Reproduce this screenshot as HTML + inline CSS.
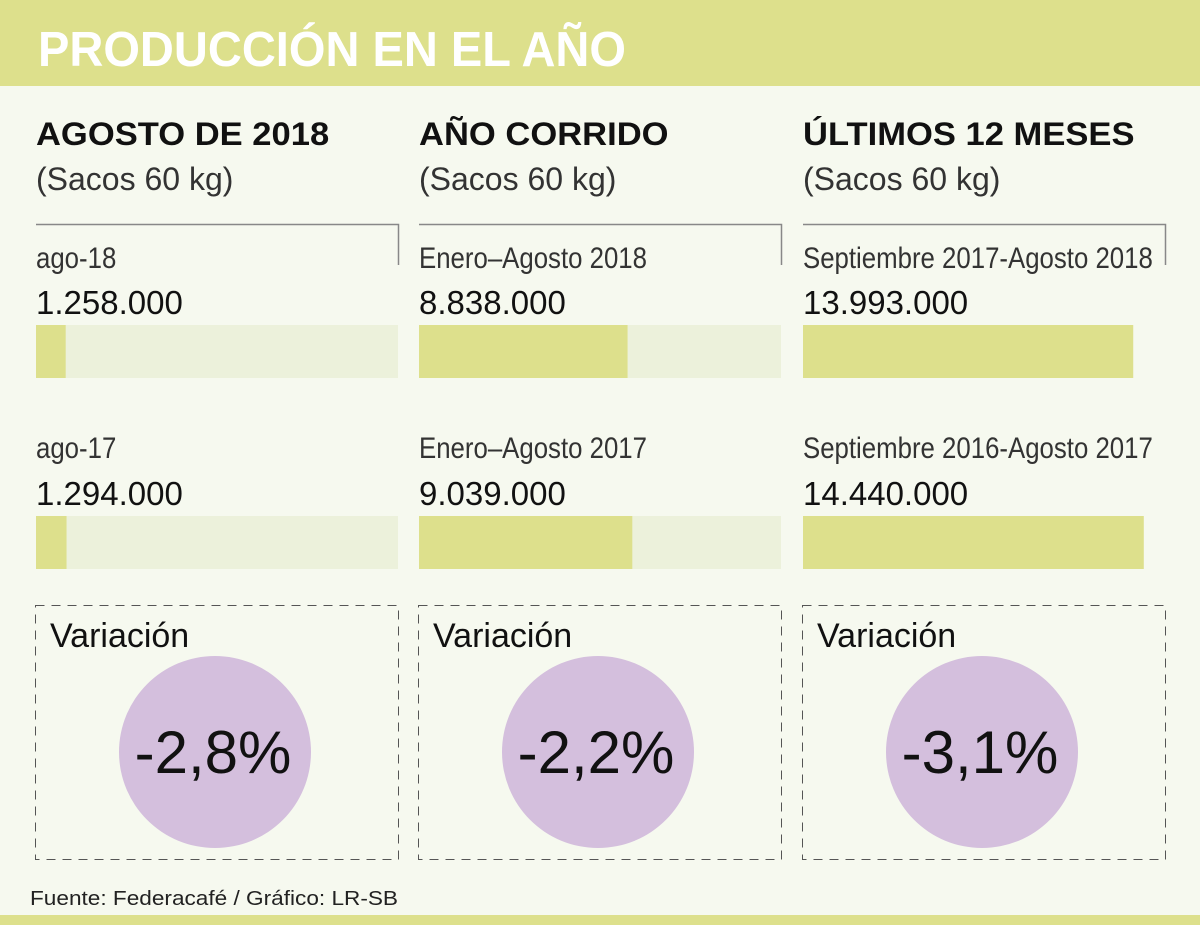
<!DOCTYPE html>
<html><head><meta charset="utf-8">
<style>
body{margin:0;width:1200px;height:925px;overflow:hidden;background:#f6f9ef;font-family:"Liberation Sans",sans-serif}
svg{display:block}
</style></head><body>
<svg id="chart" width="1200" height="925" viewBox="0 0 1200 925">
<rect x="0" y="0" width="1200" height="925" fill="#f6f9ef"/>
<rect x="0" y="0" width="1200" height="86" fill="#dde08c"/>
<text x="38" y="66" font-size="49" font-weight="bold" fill="#ffffff" textLength="588" lengthAdjust="spacingAndGlyphs">PRODUCCIÓN EN EL AÑO</text>
<rect x="0" y="915" width="1200" height="10" fill="#dde08c"/>
<text x="30" y="905" font-size="20" fill="#222" textLength="368" lengthAdjust="spacingAndGlyphs">Fuente:  Federacafé / Gráfico: LR-SB</text>
<g id="panels"></g>
</svg>
<script>
const headings = ["AGOSTO DE 2018","AÑO CORRIDO","ÚLTIMOS 12 MESES"];
const labels2018 = ["ago-18","Enero–Agosto 2018","Septiembre 2017-Agosto 2018"];
const labels2017 = ["ago-17","Enero–Agosto 2017","Septiembre 2016-Agosto 2017"];
const values2018 = [1258000, 8838000, 13993000];
const values2017 = [1294000, 9039000, 14440000];
const variations = ["-2,8%","-2,2%","-3,1%"];
const fmt = v => v.toString().replace(/\B(?=(\d{3})+(?!\d))/g, ".");
const NS = "http://www.w3.org/2000/svg";
const g = document.getElementById("panels");
const colX = [36, 419, 803];
const pxPerUnit = 23.6 / 1e6;
const xScale = v => v * pxPerUnit;
function el(tag, attrs, text){
  const e = document.createElementNS(NS, tag);
  for (const k in attrs) e.setAttribute(k, attrs[k]);
  if (text !== undefined) e.textContent = text;
  g.appendChild(e);
  return e;
}
for (let i = 0; i < 3; i++) {
  const x = colX[i];
  let e;
  e = el("text", {x: x, y: 145, "font-size": 32, "font-weight": "bold", fill: "#111"}, headings[i]);
  e.setAttribute("transform", `translate(${x},0) scale(1.08,1) translate(${-x},0)`);
  
  
  e = el("text", {x: x, y: 190, "font-size": 32, fill: "#333"}, "(Sacos 60 kg)");
  
  
  e = el("path", {d: `M${x} 224.5 H${x+362.5} V265`, stroke: "#888", "stroke-width": 1.5, fill: "none"});
  
  
  const rows = [[labels2018[i], values2018[i], 268, 314, 325], [labels2017[i], values2017[i], 458, 505, 516]];
  rows.forEach((r, j) => {
    e = el("text", {x: x, y: r[2], "font-size": 30, fill: "#333"}, r[0]);
    e.setAttribute("transform", `translate(${x},0) scale(0.86,1) translate(${-x},0)`);
    
    
    e = el("text", {x: x, y: r[3], "font-size": 33, fill: "#111"}, fmt(r[1]));
    
    
    if (i < 2) {
      e = el("rect", {x: x, y: r[4], width: 362, height: 53, fill: "#ecf1db"});
      
      
    }
    e = el("rect", {x: x, y: r[4], width: xScale(r[1]), height: 53, fill: "#dde08c"});
    
    
  });
  e = el("rect", {x: x - 0.5, y: 605.5, width: 363, height: 254, fill: "none", stroke: "#555", "stroke-width": 1, "stroke-dasharray": "9 7"});
  
  
  e = el("text", {x: x + 14, y: 647, "font-size": 34, fill: "#111"}, "Variación");
  
  
  const cx = x + 179;
  e = el("circle", {cx: cx, cy: 752, r: 96, fill: "#d4bfdd"});
  
  
  e = el("text", {x: cx - 2, y: 773, "font-size": 60, fill: "#111", "text-anchor": "middle"}, variations[i]);
  
  
}
</script>
</body></html>
